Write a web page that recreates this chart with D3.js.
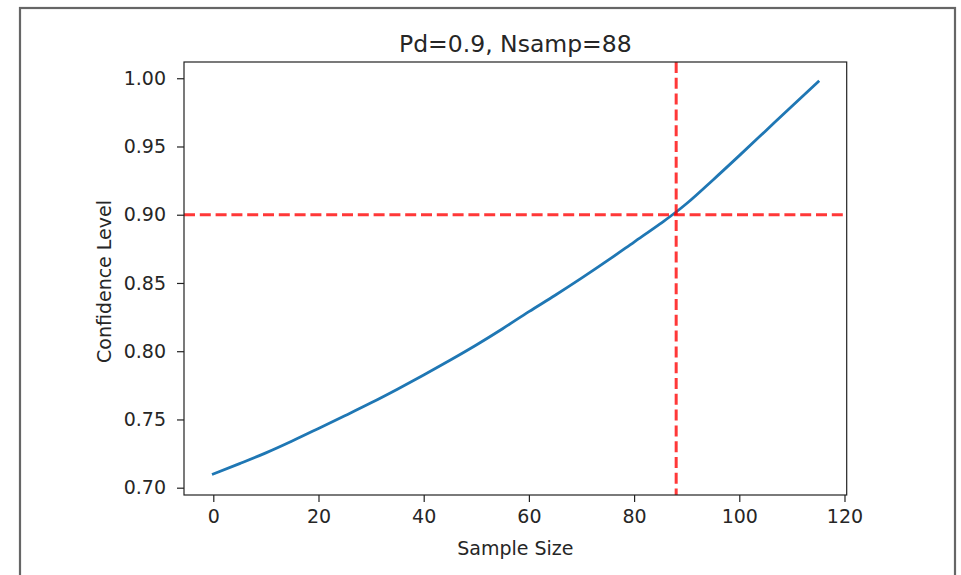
<!DOCTYPE html>
<html>
<head>
<meta charset="utf-8">
<script src="https://cdn.jsdelivr.net/npm/d3@7"></script>
<style>
  html, body { margin: 0; padding: 0; background: #fff; }
  svg { display: block; font-family: "DejaVu Sans", sans-serif; }
</style>
</head>
<body>
<svg id="chart" width="961" height="575"></svg>
<script>
// ---- data ----
const sampleSizes = [0, 5, 10, 15, 20, 25, 30, 35, 40, 45, 50, 55, 60, 65, 70, 75, 80, 85, 88, 90, 95, 100, 105, 110, 115];
const confidence  = [0.7100, 0.7176, 0.7255, 0.7342, 0.7434, 0.7527, 0.7622, 0.7722, 0.7826, 0.7934,
                     0.8046, 0.8165, 0.8290, 0.8410, 0.8535, 0.8665, 0.8800, 0.8935, 0.9020, 0.9082,
                     0.9255, 0.9433, 0.9614, 0.9795, 0.9975];
const targetConfidence = 0.9;
const nSamp = 88;
const pd = 0.9;
const xTicks = [0, 20, 40, 60, 80, 100, 120];
const yTicks = [0.70, 0.75, 0.80, 0.85, 0.90, 0.95, 1.00];
const titleText = "Pd=" + pd + ", Nsamp=" + nSamp;
const xLabel = "Sample Size";
const yLabel = "Confidence Level";

// ---- layout ----
const svg = d3.select("#chart");
const L = 184, R = 846.7, T = 62, B = 495;
const x = d3.scaleLinear().domain([-5.57, 120.42]).range([L, R]);
const y = d3.scaleLinear().domain([0.69465, 1.0119]).range([B, T]);

// outer frame
svg.append("rect")
  .attr("x", 20).attr("y", 8).attr("width", 935).attr("height", 600)
  .attr("fill", "none").attr("stroke", "#666").attr("stroke-width", 2.2);

const fontSize = 19;
const textColor = "#262626";

// curve
const line = d3.line()
  .x((d, i) => x(sampleSizes[i]))
  .y(d => y(d))
  .curve(d3.curveMonotoneX);
svg.append("path")
  .datum(confidence)
  .attr("d", line)
  .attr("fill", "none")
  .attr("stroke", "#1f77b4")
  .attr("stroke-width", 2.8)
  .attr("stroke-linecap", "square");

// reference lines
svg.append("line")
  .attr("x1", L).attr("x2", R)
  .attr("y1", y(targetConfidence)).attr("y2", y(targetConfidence))
  .attr("stroke", "#ff0000").attr("stroke-opacity", 0.78)
  .attr("stroke-width", 3).attr("stroke-dasharray", "11,4.8");
svg.append("line")
  .attr("x1", x(nSamp)).attr("x2", x(nSamp))
  .attr("y1", T).attr("y2", B)
  .attr("stroke", "#ff0000").attr("stroke-opacity", 0.78)
  .attr("stroke-width", 3).attr("stroke-dasharray", "11,4.8");

// axes
const xAxis = d3.axisBottom(x).tickValues(xTicks).tickSize(7).tickPadding(8)
  .tickFormat(d3.format("d"));
const yAxis = d3.axisLeft(y).tickValues(yTicks).tickSize(7).tickPadding(11)
  .tickFormat(d3.format(".2f"));

const gx = svg.append("g").attr("transform", `translate(0,${B})`).call(xAxis);
const gy = svg.append("g").attr("transform", `translate(${L},0)`).call(yAxis);
[gx, gy].forEach(g => {
  g.select(".domain").remove();
  g.selectAll(".tick line").attr("stroke", "#222").attr("stroke-width", 1.2);
  g.selectAll(".tick text").attr("fill", textColor)
    .style("font-family", "'DejaVu Sans', sans-serif").style("font-size", fontSize + "px");
});

// spines
svg.append("rect")
  .attr("x", L).attr("y", T).attr("width", R - L).attr("height", B - T)
  .attr("fill", "none").attr("stroke", "#222").attr("stroke-width", 1.2);

// title & labels
svg.append("text")
  .attr("x", (L + R) / 2).attr("y", 52)
  .attr("text-anchor", "middle")
  .attr("fill", textColor)
  .style("font-size", "23.5px")
  .text(titleText);

svg.append("text")
  .attr("x", (L + R) / 2).attr("y", 555)
  .attr("text-anchor", "middle")
  .attr("fill", textColor)
  .style("font-size", fontSize + "px")
  .text(xLabel);

svg.append("text")
  .attr("transform", `translate(110.5,${(T + B) / 2 + 3}) rotate(-90)`)
  .attr("text-anchor", "middle")
  .attr("fill", textColor)
  .style("font-size", fontSize + "px")
  .text(yLabel);
</script>
</body>
</html>
